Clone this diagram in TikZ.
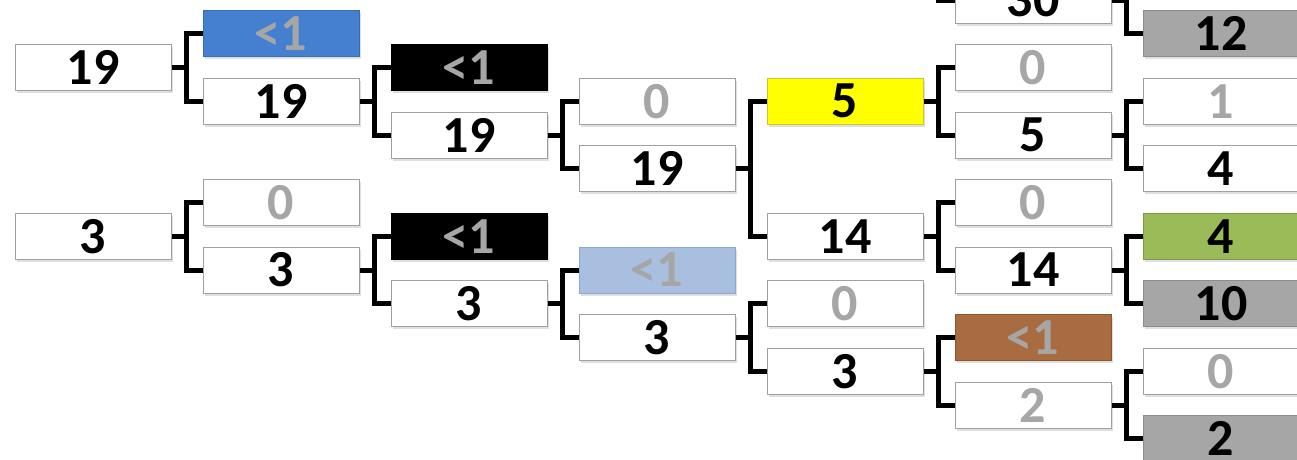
\documentclass[tikz,border=0pt]{standalone}
\usepackage{fontspec}
\setmainfont{Carlito}
\usetikzlibrary{shadows}
\definecolor{txtgray}{HTML}{A6A6A6}
\definecolor{boxedge}{HTML}{A0A0A0}
\definecolor{cblue}{HTML}{4480CF}
\definecolor{cblueedge}{HTML}{3A6DB0}
\definecolor{clight}{HTML}{A8BFE0}
\definecolor{clightedge}{HTML}{8EA7CC}
\definecolor{cyellow}{HTML}{FFFF00}
\definecolor{cyellowedge}{HTML}{C8C830}
\definecolor{cbrown}{HTML}{A86C40}
\definecolor{cbrownedge}{HTML}{8B5530}
\definecolor{cgreen}{HTML}{9BBB59}
\definecolor{cgreenedge}{HTML}{7E9A45}
\definecolor{cgrayfill}{HTML}{A6A6A6}
\definecolor{cgrayedge}{HTML}{8C8C8C}
\tikzset{
  box/.style={draw=boxedge, line width=1pt, fill=white,
    minimum width=156pt, minimum height=46pt, inner sep=0pt,
    font=\fontsize{52}{52}\selectfont\bfseries, text=black,
    drop shadow={opacity=0.25, shadow xshift=1.5pt, shadow yshift=-2.5pt}},
  dim/.style={text=txtgray},
  bluebox/.style={fill=cblue, draw=cblueedge},
  blackbox/.style={fill=black, draw=black},
  lightbox/.style={fill=clight, draw=clightedge},
  yellowbox/.style={fill=cyellow, draw=cyellowedge},
  brownbox/.style={fill=cbrown, draw=cbrownedge},
  greenbox/.style={fill=cgreen, draw=cgreenedge},
  graybox/.style={fill=cgrayfill, draw=cgrayedge},
  link/.style={line width=5pt, line join=miter, draw=black}
}
\newcommand\forkto[3]{%
  \draw[link] (#1.east) -- ++(16,0);
  \draw[link] (#2.west) -- ++(-16,0) |- (#3.west);}
\begin{document}
\begin{tikzpicture}[x=1pt,y=-1pt]
\useasboundingbox (0,0) rectangle (1297,459);
% column 0
\node[box] (a1) at (93,67.5) {19};
\node[box] (a2) at (93,236.25) {3};
% column 1
\node[box,bluebox,dim] (b1) at (281,33.75) {<1};
\node[box] (b2) at (281,101.25) {19};
\node[box,dim] (b3) at (281,202.5) {0};
\node[box] (b4) at (281,270) {3};
% column 2
\node[box,blackbox,dim] (c1) at (469,67.5) {<1};
\node[box] (c2) at (469,135) {19};
\node[box,blackbox,dim] (c3) at (469,236.25) {<1};
\node[box] (c4) at (469,303.75) {3};
% column 3
\node[box,dim] (d1) at (657,101.25) {0};
\node[box] (d2) at (657,168.75) {19};
\node[box,lightbox,dim] (d3) at (657,270) {<1};
\node[box] (d4) at (657,337.5) {3};
% column 4
\node[box,yellowbox] (e1) at (845,101.25) {5};
\node[box] (e2) at (845,236.25) {14};
\node[box,dim] (e3) at (845,303.75) {0};
\node[box] (e4) at (845,371.25) {3};
% column 5
\node[box] (f0) at (1033,0) {30};
\node[box,dim] (f1) at (1033,67.5) {0};
\node[box] (f2) at (1033,135) {5};
\node[box,dim] (f3) at (1033,202.5) {0};
\node[box] (f4) at (1033,270) {14};
\node[box,brownbox,dim] (f5) at (1033,337.5) {<1};
\node[box,dim] (f6) at (1033,405) {2};
% column 6
\node[box,graybox] (g0) at (1221,33.75) {12};
\node[box,dim] (g1) at (1221,101.25) {1};
\node[box] (g2) at (1221,168.75) {4};
\node[box,greenbox] (g3) at (1221,236.25) {4};
\node[box,graybox] (g4) at (1221,303.75) {10};
\node[box,dim] (g5) at (1221,371.25) {0};
\node[box,graybox] (g6) at (1221,438.75) {2};
% hidden ends above the picture
\coordinate (hidA) at (955,-67.5);
\coordinate (hidB) at (1143,-33.75);
% connectors
\forkto{a1}{b1}{b2}
\forkto{b2}{c1}{c2}
\forkto{c2}{d1}{d2}
\forkto{d2}{e1}{e2}
\forkto{e1}{f1}{f2}
\forkto{f2}{g1}{g2}
\forkto{e2}{f3}{f4}
\forkto{f4}{g3}{g4}
\forkto{a2}{b3}{b4}
\forkto{b4}{c3}{c4}
\forkto{c4}{d3}{d4}
\forkto{d4}{e3}{e4}
\forkto{e4}{f5}{f6}
\forkto{f6}{g5}{g6}
\draw[link] (f0.west) -- ++(-16,0) |- (hidA);
\forkto{f0}{g0}{hidB}
\end{tikzpicture}
\end{document}
